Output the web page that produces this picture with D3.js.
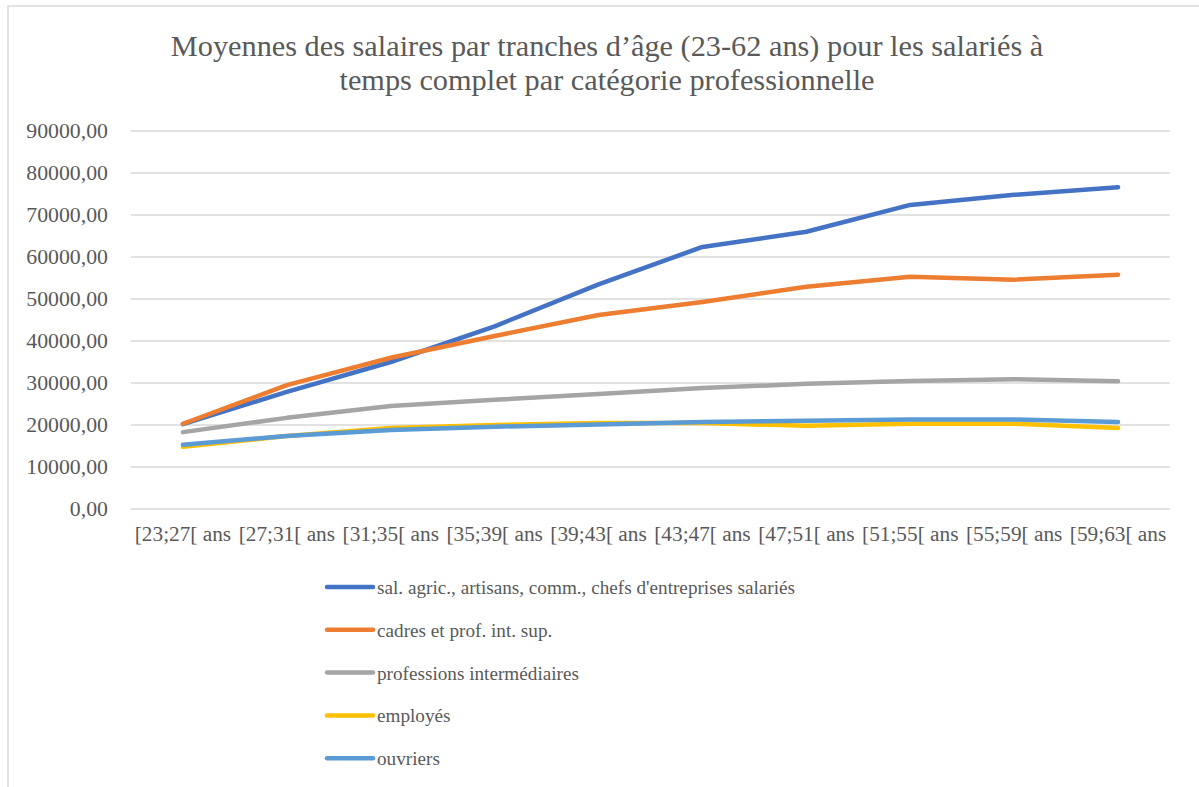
<!DOCTYPE html>
<html>
<head>
<meta charset="utf-8">
<script src="https://cdn.jsdelivr.net/npm/d3@7"></script>
<style>
  body { margin: 0; background: #fff; }
  text { font-family: "Liberation Serif", "DejaVu Serif", serif; fill: #595959; }
</style>
</head>
<body>
<div id="chart-div"></div>
<script>
const WIDTH = 1199;
const HEIGHT = 787;
const LEFT = 131;
const RIGHT = 1170;
const TOP = 131;
const BOTTOM = 509;

// Categories (age brackets)
const categories = ["[23;27[ ans", "[27;31[ ans", "[31;35[ ans", "[35;39[ ans", "[39;43[ ans",
    "[43;47[ ans", "[47;51[ ans", "[51;55[ ans", "[55;59[ ans", "[59;63[ ans"];

const seriesNames = [
    "sal. agric., artisans, comm., chefs d'entreprises salariés",
    "cadres et prof. int. sup.",
    "professions intermédiaires",
    "employés",
    "ouvriers"
];

// Values
const salAgric = [20200, 27900, 35000, 43500, 53500, 62400, 66000, 72400, 74800, 76600];
const cadres = [20300, 29500, 36000, 41200, 46200, 49300, 52900, 55300, 54600, 55800];
const profInter = [18300, 21700, 24500, 26000, 27400, 28800, 29800, 30500, 30900, 30400];
const employes = [14800, 17400, 19300, 20000, 20500, 20500, 19800, 20300, 20300, 19300];
const ouvriers = [15300, 17400, 18800, 19600, 20100, 20700, 21000, 21300, 21300, 20700];

const yTicks = [0, 10000, 20000, 30000, 40000, 50000, 60000, 70000, 80000, 90000];

const colors = ["#4472C4", "#ED7D31", "#A5A5A5", "#FFC000", "#5B9BD5"];
const allSeries = [salAgric, cadres, profInter, employes, ouvriers];

let svg = d3.select("#chart-div")
    .append("svg")
    .attr("width", WIDTH)
    .attr("height", HEIGHT);

// chart area border
svg.append("rect")
    .attr("x", 8)
    .attr("y", 6)
    .attr("width", 1300)
    .attr("height", 900)
    .attr("fill", "none")
    .attr("stroke", "#d9d9d9")
    .attr("stroke-width", 1.5);

// Title
let title = svg.append("text")
    .attr("text-anchor", "middle")
    .style("font-size", "30.3px");
title.append("tspan").attr("x", 607).attr("y", 56)
    .text("Moyennes des salaires par tranches d’âge (23-62 ans) pour les salariés à");
title.append("tspan").attr("x", 607).attr("y", 90)
    .text("temps complet par catégorie professionnelle");

let xScale = d3.scaleBand()
    .domain(categories)
    .range([LEFT, RIGHT]);

let yScale = d3.scaleLinear()
    .domain([0, 90000])
    .range([BOTTOM, TOP]);

// Gridlines
svg.append("g")
    .selectAll("line")
    .data(yTicks)
    .enter()
    .append("line")
    .attr("x1", LEFT)
    .attr("x2", RIGHT)
    .attr("y1", d => yScale(d))
    .attr("y2", d => yScale(d))
    .attr("stroke", "#d9d9d9")
    .attr("stroke-width", 1.3);

// Y axis labels
let yAxis = svg.append("g")
    .attr("transform", "translate(" + (LEFT - 4) + ",0)")
    .call(d3.axisLeft(yScale)
        .tickValues(yTicks)
        .tickSize(0)
        .tickPadding(19)
        .tickFormat(d => d3.format(".2f")(d).replace(".", ",")));
yAxis.select(".domain").remove();
yAxis.selectAll("text")
    .style("font-size", "21.8px")
    .attr("fill", "#595959")
    .style("font-family", "Liberation Serif, serif");

// X axis labels
let xAxis = svg.append("g")
    .attr("transform", "translate(0," + BOTTOM + ")")
    .call(d3.axisBottom(xScale).tickSize(0).tickPadding(17));
xAxis.select(".domain").remove();
xAxis.selectAll("text")
    .style("font-size", "21.3px")
    .attr("fill", "#595959")
    .style("font-family", "Liberation Serif, serif");

// Lines
let line = d3.line()
    .x((d, i) => xScale(categories[i]) + xScale.bandwidth() / 2)
    .y(d => yScale(d));

svg.append("g")
    .selectAll("path")
    .data(allSeries)
    .enter()
    .append("path")
    .attr("d", d => line(d))
    .attr("fill", "none")
    .attr("stroke", (d, i) => colors[i])
    .attr("stroke-width", 4.5)
    .attr("stroke-linecap", "round")
    .attr("stroke-linejoin", "round");

// Legend
let legend = svg.append("g")
    .selectAll("g")
    .data(seriesNames)
    .enter()
    .append("g")
    .attr("transform", (d, i) => "translate(327," + (587 + i * 42.8) + ")");

legend.append("line")
    .attr("x1", 0)
    .attr("x2", 46)
    .attr("stroke", (d, i) => colors[i])
    .attr("stroke-width", 4.5)
    .attr("stroke-linecap", "round");

legend.append("text")
    .attr("x", 50)
    .attr("y", 7)
    .style("font-size", "19.2px")
    .text(d => d);
</script>
</body>
</html>
